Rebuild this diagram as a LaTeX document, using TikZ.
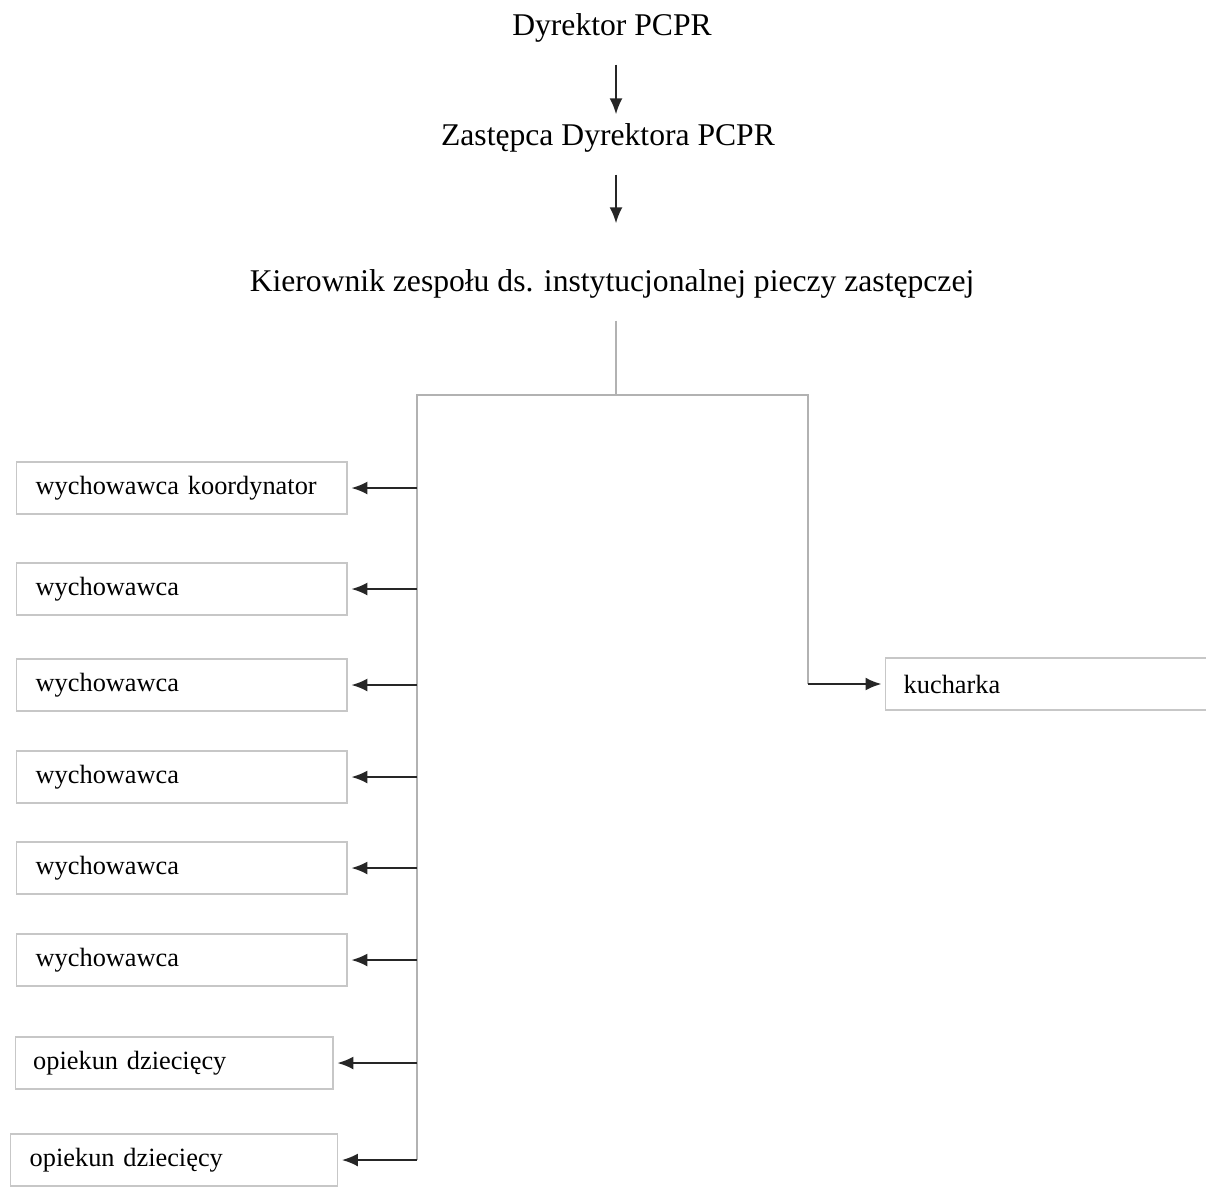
\documentclass[tikz,border=0pt]{standalone}
\usepackage{fontspec}
\setmainfont{Liberation Serif}
\usepackage{tikz}
\usetikzlibrary{arrows.meta,positioning}

\begin{document}
\begin{tikzpicture}[
		x=0.02cm, y=-0.02cm,
		>={Latex[length=3.2mm,width=2.6mm]},
		head/.style={
			font=\fontsize{18}{20}\selectfont,
			inner sep=0pt,
			text height=0.7em,
			text depth=0.25em,
			anchor=base
		},
		staff/.style={
			font=\fontsize{15}{17}\selectfont,
			rectangle,
			draw=black!22,
			line width=0.8pt,
			fill=white,
			anchor=west,
			minimum height=1.04cm,
			text width=5.85cm,
			inner xsep=0.38cm,
			align=left
		},
		arr/.style={
			->,
			draw=black!85,
			line width=1.2pt
		},
		tree/.style={
			draw=black!30,
			line width=0.7pt
		}
		]
		\useasboundingbox (0,0) rectangle (1206,1187);
		
		% We start by placing the heads
		\node [head] (dyr) at (612,35) {Dyrektor PCPR};
		\node [head] (zast) at (608,145) {Zastępca Dyrektora PCPR};
		\node [head] (kier) at (612,291) {Kierownik zespołu ds. instytucjonalnej pieczy zastępczej};
		
		% staff boxes
		\node [staff] (w1) at (16,488) {wychowawca koordynator};
		\node [staff] (w2) at (16,589) {wychowawca};
		\node [staff] (w3) at (16,685) {wychowawca};
		\node [staff] (w4) at (16,777) {wychowawca};
		\node [staff] (w5) at (16,868) {wychowawca};
		\node [staff] (w6) at (16,960) {wychowawca};
		\node [staff, text width=5.65cm, inner xsep=0.35cm] (o1) at (15,1063) {opiekun dziecięcy};
		\node [staff, text width=5.78cm, inner xsep=0.38cm] (o2) at (10,1160) {opiekun dziecięcy};
		\node [staff, text width=6.5cm, inner xsep=0.36cm] (kuch) at (885,684) {kucharka};
		
		% tree points
		\coordinate (xa) at (616,0);
		\coordinate (bt) at (616,395);
		\coordinate (bl) at (417,395);
		\coordinate (br) at (808,395);
		
		\draw [arr, shorten <=0.5cm, shorten >=0.36cm] (dyr.south -| xa) -- (zast.north -| xa);
		\draw [arr, shorten <=0.5cm, shorten >=1.1cm] (zast.south -| xa) -- (kier.north -| xa);
		
		\draw [tree, shorten <=0.5cm] (kier.south -| xa) -- (bt);
		\draw [tree] (bl |- o2) -- (bl) -- (br) -- (br |- kuch);
		
		\foreach \n in {w1,w2,w3,w4,w5,w6,o1,o2}
			\draw [arr, shorten >=2pt] (bl |- \n) -- (\n.east);
		\draw [arr, shorten >=2pt] (br |- kuch) -- (kuch.west);
		
\end{tikzpicture}
\end{document}
